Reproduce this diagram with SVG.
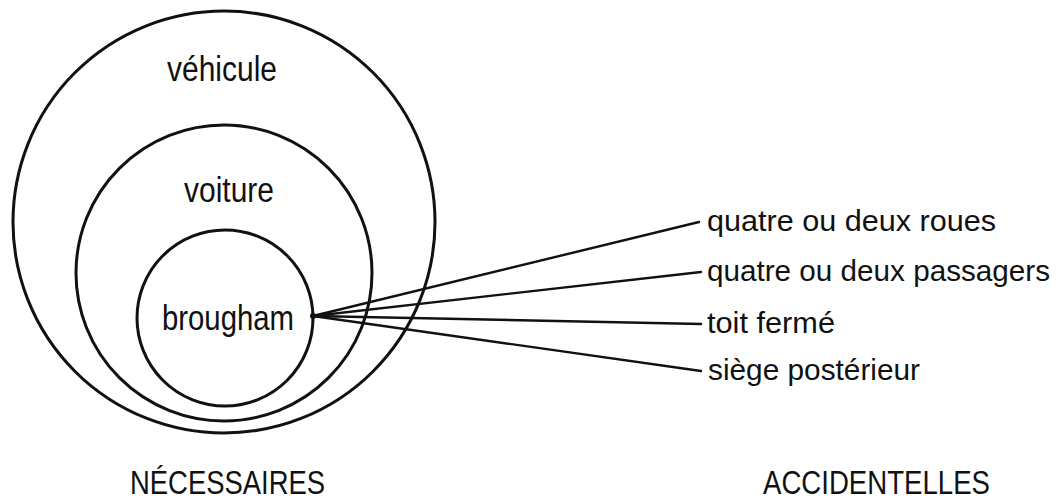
<svg xmlns="http://www.w3.org/2000/svg" width="1062" height="499" viewBox="0 0 1062 499">
  <style>
    .ring { fill: none; stroke: #111; stroke-width: 3; }
    .conn { stroke: #111; stroke-width: 2.4; fill: none; stroke-linecap: round; }
    text { font-family: "Liberation Sans Narrow", "Liberation Sans", Arial, sans-serif; fill: #111; }
    .lbl { font-size: 35px; }
    .attr { font-size: 30px; }
    .hd { font-size: 33px; }
  </style>
  <rect width="1062" height="499" fill="#fff"/>
  <g id="vehicule">
    <circle class="ring" cx="224" cy="222" r="211"/>
    <text class="lbl" x="167" y="81" textLength="110" lengthAdjust="spacingAndGlyphs">véhicule</text>
  </g>
  <g id="voiture">
    <circle class="ring" cx="224" cy="273" r="148"/>
    <text class="lbl" x="184" y="202" textLength="90" lengthAdjust="spacingAndGlyphs">voiture</text>
  </g>
  <g id="brougham">
    <circle class="ring" cx="225" cy="318" r="88"/>
    <text class="lbl" x="162" y="330" textLength="132" lengthAdjust="spacingAndGlyphs">brougham</text>
  </g>
  <g id="connectors">
    <circle cx="313" cy="316" r="3" fill="#111"/>
    <line class="conn" x1="313" y1="316" x2="699" y2="222"/>
    <line class="conn" x1="313" y1="316" x2="701" y2="272"/>
    <line class="conn" x1="313" y1="316" x2="701" y2="324"/>
    <line class="conn" x1="313" y1="316" x2="701" y2="371"/>
  </g>
  <g id="attr-roues">
    <text class="attr" x="707" y="231" textLength="289" lengthAdjust="spacingAndGlyphs">quatre ou deux roues</text>
  </g>
  <g id="attr-passagers">
    <text class="attr" x="707" y="281" textLength="343" lengthAdjust="spacingAndGlyphs">quatre ou deux passagers</text>
  </g>
  <g id="attr-toit">
    <text class="attr" x="707" y="333" textLength="128" lengthAdjust="spacingAndGlyphs">toit fermé</text>
  </g>
  <g id="attr-siege">
    <text class="attr" x="708" y="380" textLength="212" lengthAdjust="spacingAndGlyphs">siège postérieur</text>
  </g>
  <g id="necessaires">
    <text class="hd" x="130" y="494" textLength="195" lengthAdjust="spacingAndGlyphs">NÉCESSAIRES</text>
  </g>
  <g id="accidentelles">
    <text class="hd" x="763" y="494" textLength="227" lengthAdjust="spacingAndGlyphs">ACCIDENTELLES</text>
  </g>
</svg>
